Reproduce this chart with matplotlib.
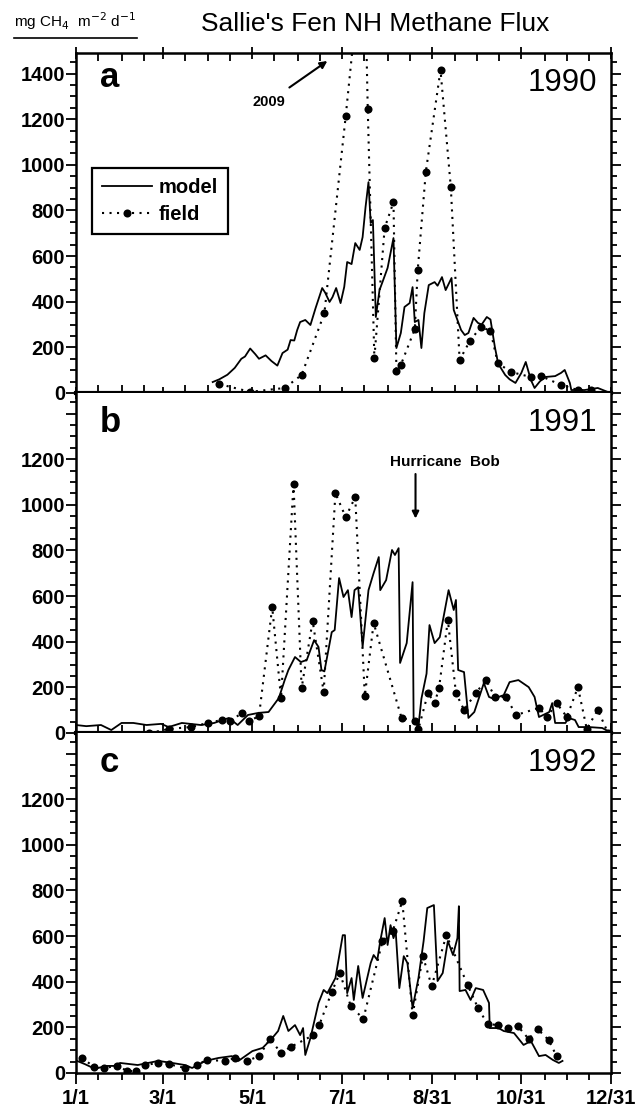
import matplotlib
matplotlib.use('Agg')
import matplotlib.pyplot as plt
from matplotlib.ticker import MultipleLocator, FixedLocator
from matplotlib.lines import Line2D

plt.rcParams['font.family'] = ['Liberation Sans', 'DejaVu Sans']

# x axis: day of year, 1/1 = 1
tick_days = [1, 60, 121, 182, 243, 304, 365]
tick_labels = ['1/1', '3/1', '5/1', '7/1', '8/31', '10/31', '12/31']
minor_days = [16, 32, 47, 75, 91, 106, 136, 152, 167, 197, 213, 228, 259, 274, 289, 320, 335, 350]
years = ['1990', '1991', '1992']
panel_letters = ['a', 'b', 'c']

# 1990
model_1990_day = [94, 98.5, 104, 109, 113.5, 116, 119.5, 123, 125.5, 130, 134, 138, 141.5, 145, 147, 149.5,
                  151.5, 153.5, 157, 160.5, 164, 168.5, 170.5, 173.5, 175.5, 178, 181, 183.5, 185.5, 188.5,
                  191, 194, 196, 198, 200, 201.5, 203, 205, 207.5, 209.5, 213, 217, 219, 222, 224.5, 228, 230,
                  231.5, 234, 236, 238, 241, 245, 247, 250, 252.5, 256.5, 258, 263, 265.5, 268, 271.5, 274.5,
                  277, 280.5, 283, 286, 287.5, 288, 293, 296, 300, 304, 307, 310.5, 313, 316.5, 320, 327, 331,
                  333.5, 337, 338, 347, 356, 363]
model_1990 = [48, 60, 80, 110, 150, 160, 195, 170, 150, 165, 140, 120, 175, 190, 232, 230, 276, 311, 320, 298,
              372, 460, 440, 399, 420, 460, 394, 465, 574, 565, 657, 627, 683, 815, 924, 745, 758, 333, 451, 486,
              548, 679, 197, 263, 377, 394, 464, 311, 320, 197, 350, 473, 486, 470, 508, 451, 504, 364, 276, 254,
              263, 329, 307, 300, 333, 322, 201, 153, 131, 79, 60, 44, 88, 136, 57, 22, 50, 70, 74, 88, 101, 44,
              13, 13, 22, 4]
field_1990_day = [98.5, 119.5, 143, 154.5, 170, 184.5, 197, 199.5, 204, 211, 217, 219, 222, 231.5, 233.5, 239,
                  249, 256, 262, 269, 276.5, 283, 288, 297, 310.5, 317.5, 331, 342.5, 351.5]
field_1990 = [39, 5, 22, 79, 350, 1213, 2009, 1244, 153, 723, 837, 96, 123, 280, 539, 969, 1415, 903, 145, 228,
              290, 272, 131, 92, 70, 74, 35, 13, 13]

# 1991
model_1991_day = [1, 8, 18, 25, 32, 40, 49, 59, 64, 73, 86, 95, 105, 111, 118, 125, 132, 139, 143, 145.5, 150,
                  154, 158, 163, 166, 168, 170, 175, 177, 180, 183, 186, 188.5, 190.5, 193, 196, 200, 203.5, 207,
                  208, 212, 216, 218, 220.5, 221.5, 226, 230, 230.7, 234, 236, 239.5, 241.5, 245, 248.5, 254.5,
                  258, 259.5, 261, 265, 268, 272, 278.5, 282, 285, 292, 296, 302, 309, 313, 316, 323, 325, 327,
                  334, 336, 340.5, 343, 350, 359, 364]
model_1991 = [35, 30, 35, 13, 44, 44, 35, 40, 26, 44, 35, 44, 66, 35, 79, 88, 92, 153, 232, 276, 333, 311, 320,
              407, 377, 276, 270, 442, 451, 679, 596, 626, 508, 626, 639, 377, 626, 701, 771, 626, 670, 802, 780,
              810, 307, 394, 661, 57, 30, 150, 260, 473, 394, 420, 626, 539, 583, 276, 267, 66, 92, 219, 158, 150,
              166, 223, 232, 201, 158, 70, 92, 131, 44, 44, 66, 57, 26, 26, 22, 5]
field_1991_day = [51, 64.5, 79, 91, 100, 106, 114, 119, 125.5, 134.5, 140.5, 149, 154.5, 162, 169.5, 177.5,
                  184.5, 191, 197.5, 203.5, 222.5, 231.5, 234, 240.5, 245, 248, 254, 259.5, 265, 273, 280, 286,
                  293.5, 300.5, 316, 321.5, 328, 335, 342.5, 348.5, 356, 363]
field_1991 = [0, 18, 26, 44, 57, 53, 88, 53, 74, 552, 153, 1091, 197, 491, 180, 1051, 946, 1034, 162, 482, 66,
              53, 18, 175, 131, 197, 495, 175, 101, 175, 232, 158, 158, 79, 110, 70, 131, 70, 201, 18, 101, 0]

# 1992
model_1992_day = [1.7, 7, 14, 21, 27.5, 31, 43, 57, 66.5, 75, 80, 89, 98, 107, 111.5, 121, 128, 134.5, 138.5,
                  142, 145.5, 150, 153.5, 155.5, 157, 160.5, 166, 169.5, 172, 177.5, 182.5, 184, 185.5, 188.5,
                  190, 193, 196, 201.5, 203.5, 206, 208, 211, 213, 215, 217, 218.5, 221, 224, 226.5, 230, 234,
                  237.5, 240, 244.5, 247, 250.5, 254, 257.5, 260.5, 261.5, 262, 266, 269.5, 273, 278, 282, 282.5,
                  288.5, 292, 299, 305.5, 310.5, 316, 320.5, 325.5, 329.5, 332]
model_1992 = [53, 39, 18, 31, 31, 44, 35, 53, 44, 35, 22, 53, 66, 74, 53, 96, 110, 153, 184, 250, 184, 210, 166,
              197, 79, 153, 307, 364, 350, 416, 604, 604, 350, 416, 320, 469, 329, 482, 517, 495, 578, 679, 561,
              648, 591, 622, 372, 512, 482, 285, 416, 578, 723, 736, 403, 438, 578, 517, 591, 731, 359, 364, 320,
              372, 364, 307, 197, 197, 184, 175, 123, 140, 74, 79, 57, 44, 53]
field_1992_day = [5, 13.5, 20, 29, 36, 42, 48, 57, 64, 75, 83, 90, 102.5, 109.5, 117.5, 125.5, 133, 140.5, 147,
                  162.5, 166.5, 175, 180.5, 188, 196.5, 209.5, 216.5, 223, 230, 237, 243, 253, 267.5, 274.5, 281,
                  288, 295, 301.5, 309, 315, 322.5, 328]
field_1992 = [66, 26, 22, 31, 9, 9, 35, 44, 39, 22, 35, 57, 53, 66, 53, 74, 149, 88, 114, 166, 210, 355, 438,
              293, 237, 578, 622, 753, 254, 512, 381, 604, 385, 285, 215, 210, 197, 206, 149, 193, 145, 74]

models = [(model_1990_day, model_1990), (model_1991_day, model_1991), (model_1992_day, model_1992)]
fields = [(field_1990_day, field_1990), (field_1991_day, field_1991), (field_1992_day, field_1992)]

fig = plt.figure(figsize=(6.39, 11.11), dpi=100)
left, width = 76/639, 535/639
h = 340/1111
bottoms = [1-393/1111, 1-733/1111, 1-1073/1111]
axes = []
for i in range(3):
    ax = fig.add_axes([left, bottoms[i], width, h])
    axes.append(ax)
    md, mv = models[i]
    fd, fv = fields[i]
    ax.plot(md, mv, color='k', linewidth=1.3)
    ax.plot(fd, fv, color='k', linestyle=(0, (1, 2.6)), linewidth=1.5,
            marker='o', markersize=5.8, markeredgewidth=0)
    ax.set_xlim(1, 365)
    ax.set_ylim(0, 1490)
    ax.xaxis.set_major_locator(FixedLocator(tick_days))
    ax.xaxis.set_minor_locator(FixedLocator(minor_days))
    ax.yaxis.set_major_locator(FixedLocator([0, 200, 400, 600, 800, 1000, 1200, 1400]))
    ax.yaxis.set_minor_locator(MultipleLocator(50))
    if i == 0:
        ax.set_yticklabels(['0', '200', '400', '600', '800', '1000', '1200', '1400'])
    else:
        ax.set_yticklabels(['0', '200', '400', '600', '800', '1000', '1200', ''])
    for s in ax.spines.values():
        s.set_linewidth(1.8)
    ax.tick_params(axis='y', which='both', left=True, right=True, direction='out',
                   labelsize=14.5, width=1.3, pad=1)
    ax.tick_params(axis='y', which='major', length=7)
    ax.tick_params(axis='y', which='minor', length=4)
    if i < 2:
        ax.spines['bottom'].set_linewidth(3)
        ax.tick_params(axis='x', which='both', labelbottom=False, width=1.3)
        ax.tick_params(axis='x', which='major', direction='inout', length=14)
        ax.tick_params(axis='x', which='minor', direction='in', length=6)
    else:
        ax.set_xticklabels(tick_labels)
        ax.tick_params(axis='x', which='both', direction='out', labelsize=14.5, width=1.3)
        ax.tick_params(axis='x', which='major', length=8)
        ax.tick_params(axis='x', which='minor', length=5)
    for lab in ax.get_yticklabels() + ax.get_xticklabels():
        lab.set_fontweight('bold')
    if i == 0:
        ax.tick_params(axis='x', which='both', top=True)
        ax.tick_params(axis='x', which='major', top=True, length=8)
    else:
        ax.spines['top'].set_visible(False)
    ax.text(0.045, 0.885 if i else 0.9, panel_letters[i], transform=ax.transAxes,
            fontsize=25, fontweight='bold', va='baseline', ha='left')
    ax.text(0.974, 0.887, years[i], transform=ax.transAxes,
            fontsize=22.5, va='baseline', ha='right')

# panel a legend and note
leg_handles = [Line2D([], [], color='k', linewidth=1.3),
               Line2D([], [], color='k', linestyle=(0, (1, 2.6)), linewidth=1.5,
                      marker='o', markersize=5.8, markeredgewidth=0)]
leg = axes[0].legend(leg_handles, ['model', 'field'], loc='upper left', bbox_to_anchor=(0.03, 0.662),
                     fancybox=False, edgecolor='k', framealpha=1, numpoints=1,
                     prop={'size': 14.5, 'weight': 'bold'},
                     handlelength=2.5, handletextpad=0.3, borderpad=0.5, labelspacing=0.4, borderaxespad=0)
leg.get_frame().set_linewidth(1.6)
axes[0].annotate('2009', xy=(172, 1455), xytext=(132, 1275), fontsize=10.5, fontweight='bold',
                 ha='center', va='center',
                 arrowprops=dict(arrowstyle='-|>', color='k', lw=1.5, shrinkA=6, shrinkB=0))
axes[1].text(252, 1187, 'Hurricane  Bob', fontsize=11, fontweight='bold', ha='center', va='center')
axes[1].annotate('', xy=(232, 940), xytext=(232, 1135),
                 arrowprops=dict(arrowstyle='-|>', color='k', lw=1.5, shrinkA=0, shrinkB=0))

fig.text(0.587, 0.972, "Sallie's Fen NH Methane Flux", fontsize=19, ha='center', va='baseline')
fig.text(14/639, 0.976, 'mg CH$_4$  m$^{-2}$ d$^{-1}$', fontsize=11, ha='left', va='baseline')
fig.add_artist(Line2D([14/639, 137/639], [1-38/1111, 1-38/1111], color='k', linewidth=1.2))

plt.savefig('out.png', dpi=100)
